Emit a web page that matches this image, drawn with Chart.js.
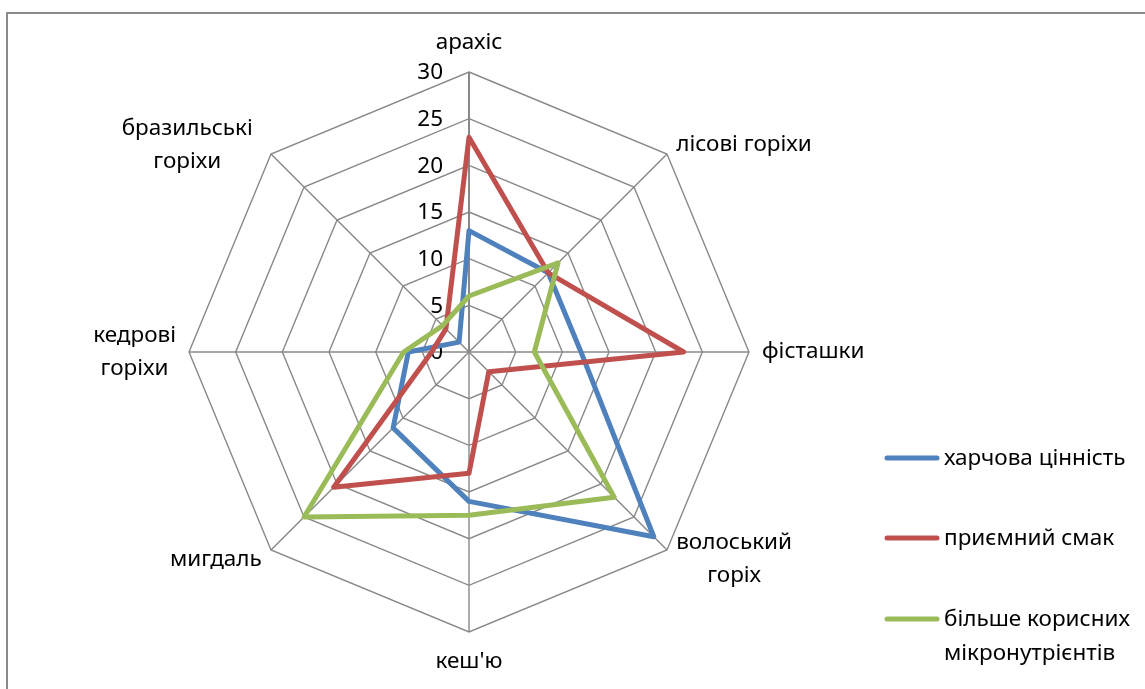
<!DOCTYPE html>
<html>
<head>
<meta charset="utf-8">
<script src="https://cdn.jsdelivr.net/npm/chart.js@4.4.1/dist/chart.umd.min.js"></script>
<style>
  html, body { margin: 0; padding: 0; background: #fff; overflow: hidden; }
  #wrap { position: relative; width: 1145px; height: 689px; }
  #frame { position: absolute; left: 6px; top: 12px; width: 1300px; height: 900px;
           border-left: 2px solid #8a8a8a; border-top: 2px solid #8a8a8a; }
  canvas { position: absolute; left: 0; top: 0; }
</style>
</head>
<body>
<div id="wrap">
  <div id="frame"></div>
  <canvas id="chart" width="1145" height="689"></canvas>
</div>
<script>
// Categories (nut types), clockwise from the top
const categories = [
  ['арахіс'],
  ['лісові горіхи'],
  ['фісташки'],
  ['волоський', 'горіх'],
  ["кеш'ю"],
  ['мигдаль'],
  ['кедрові', 'горіхи'],
  ['бразильські', 'горіхи']
];

// Series names
const seriesNames = [
  ['харчова цінність'],
  ['приємний смак'],
  ['більше корисних', 'мікронутрієнтів']
];

// Series values, one per category
const nutritionValue     = [13, 12, 12, 28, 16, 11.5, 6.5, 1.5];
const pleasantTaste      = [23, 12, 23, 3, 13, 20.5, 4, 3.5];
const moreMicronutrients = [6, 13.5, 7, 22, 17.5, 25, 7, 4];

// Radial axis tick labels
const tickValues = [0, 5, 10, 15, 20, 25, 30];

const seriesColors = ['#4F81BD', '#C0504D', '#9BBB59'];
const FONT = '22.5px "Noto Sans"';
const LINE_H = 33;

// Draws the value labels, the category labels and the legend
const textPlugin = {
  id: 'radarText',
  beforeDatasetsDraw(chart) {
    const s = chart.scales.r;
    const ctx = chart.ctx;
    ctx.save();
    ctx.font = FONT;
    ctx.fillStyle = '#000';
    ctx.textAlign = 'right';
    ctx.textBaseline = 'middle';
    tickValues.forEach(v => {
      const y = s.yCenter - s.getDistanceFromCenterForValue(v);
      ctx.fillText(String(v), s.xCenter - 26, y + 1);
    });
    ctx.restore();
  },
  afterDraw(chart) {
    const s = chart.scales.r;
    const ctx = chart.ctx;
    ctx.save();
    ctx.font = FONT;
    ctx.fillStyle = '#000';
    ctx.textBaseline = 'middle';
    const gap = 13;
    categories.forEach((lines, i) => {
      const p = s.getPointPosition(i, s.drawingArea + gap);
      const deg = Math.round(s.getIndexAngle(i) * 180 / Math.PI) % 360;
      const widths = lines.map(t => ctx.measureText(t).width);
      const w = Math.max(...widths);
      const h = lines.length * LINE_H;
      let top, cx;
      if (deg === 0) {
        top = p.y - h; cx = p.x;
      } else if (deg === 180) {
        top = p.y; cx = p.x;
      } else if (deg < 180) {
        top = p.y - h / 2; cx = p.x + w / 2;
      } else {
        top = p.y - h / 2; cx = p.x - w / 2 - (deg === 315 ? 9 : 0);
      }
      ctx.textAlign = 'center';
      lines.forEach((t, k) => ctx.fillText(t, cx, top + LINE_H / 2 + k * LINE_H));
    });

    // Legend
    const legendY = [458, 538, 619];
    ctx.textAlign = 'left';
    seriesNames.forEach((lines, i) => {
      const y = legendY[i];
      ctx.strokeStyle = seriesColors[i];
      ctx.lineWidth = 5;
      ctx.lineCap = 'round';
      ctx.beginPath();
      ctx.moveTo(887, y);
      ctx.lineTo(937, y);
      ctx.stroke();
      ctx.fillStyle = '#000';
      lines.forEach((t, k) => ctx.fillText(t, 944, y + 1 + k * 34));
    });
    ctx.restore();
  }
};

const seriesData = [nutritionValue, pleasantTaste, moreMicronutrients];

new Chart(document.getElementById('chart'), {
  type: 'radar',
  data: {
    labels: categories,
    datasets: seriesData.map((vals, i) => ({
      label: seriesNames[i].join(' '),
      data: vals,
      borderColor: seriesColors[i],
      backgroundColor: 'transparent',
      borderWidth: 5,
      borderJoinStyle: 'round',
      pointRadius: 0,
      pointHoverRadius: 0,
      fill: false,
      order: 2 - i
    }))
  },
  options: {
    responsive: false,
    animation: false,
    devicePixelRatio: 1,
    layout: { padding: { left: 189, right: 396, top: 72, bottom: 57 } },
    plugins: { legend: { display: false }, tooltip: { enabled: false } },
    scales: {
      r: {
        min: 0,
        max: 30,
        ticks: { stepSize: 5, display: false },
        grid: { color: '#888888', lineWidth: 1.4 },
        angleLines: {
          color: '#888888',
          lineWidth: ctx => (ctx.index === 0 ? 2 : 1.4)
        },
        pointLabels: { display: false }
      }
    }
  },
  plugins: [textPlugin]
});
</script>
</body>
</html>
